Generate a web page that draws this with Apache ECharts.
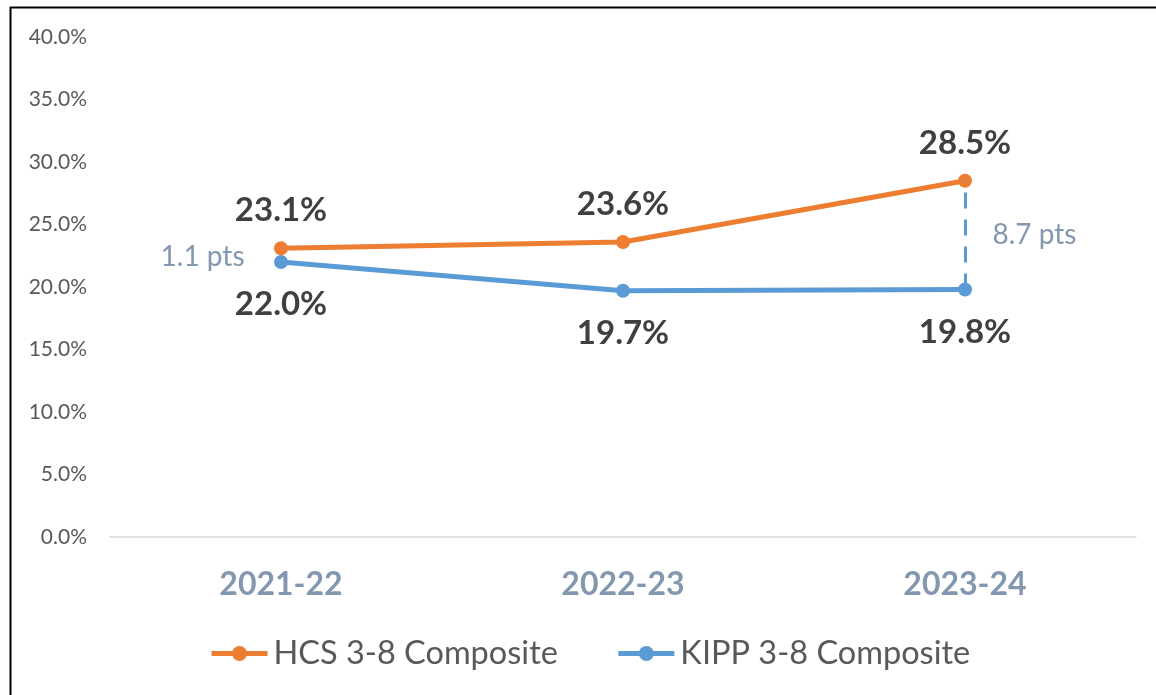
<!DOCTYPE html>
<html>
<head>
<meta charset="utf-8">
<script src="https://cdn.jsdelivr.net/npm/echarts@6/dist/echarts.min.js"></script>
<style>
html,body{margin:0;padding:0;background:#fff;}
#chart{width:1156px;height:695px;}
</style>
</head>
<body>
<div id="chart"></div>
<script>
const categories = ['2021-22', '2022-23', '2023-24'];
const hcsValues = [23.1, 23.6, 28.5];
const kippValues = [22.0, 19.7, 19.8];
const seriesNames = ['HCS 3-8 Composite', 'KIPP 3-8 Composite'];
const yTicks = [0, 5, 10, 15, 20, 25, 30, 35, 40];
const gapIndices = [0, 2];

const FONT = 'Lato, "Open Sans", sans-serif';
const ORANGE = '#ED7D31';
const BLUE = '#5B9BD5';
const ANNOT = '#8497B0';

const chart = echarts.init(document.getElementById('chart'));

const gapFirst = gapIndices[0];
const gapLast = gapIndices[1];
const gap = (i) => (hcsValues[i] - kippValues[i]).toFixed(1) + ' pts';
const mid = (i) => (hcsValues[i] + kippValues[i]) / 2;

const option = {
  backgroundColor: '#fff',
  animation: false,
  textStyle: { fontFamily: FONT },
  grid: { left: 110, right: 20, top: 37, bottom: 158, containLabel: false },
  legend: {
    bottom: 20,
    left: 204,
    itemWidth: 56,
    itemHeight: 19,
    itemGap: 58,
    lineStyle: { width: 5 },
    textStyle: { fontFamily: FONT, fontSize: 32.5, color: '#595959', padding: [0, 0, 0, 1] },
    data: seriesNames
  },
  xAxis: {
    type: 'category',
    data: categories,
    boundaryGap: true,
    axisLine: { show: true, lineStyle: { color: '#D9D9D9', width: 1.5 } },
    axisTick: { show: false },
    axisLabel: { fontFamily: FONT, fontSize: 32, fontWeight: 'bold', color: ANNOT, margin: 32 }
  },
  yAxis: {
    type: 'value',
    min: yTicks[0],
    max: yTicks[yTicks.length - 1],
    interval: yTicks[1] - yTicks[0],
    axisLine: { show: false },
    axisTick: { show: false },
    splitLine: { show: false },
    axisLabel: {
      fontFamily: FONT, fontSize: 21, color: '#595959', margin: 23,
      formatter: (v) => v.toFixed(1) + '%'
    }
  },
  series: [
    {
      name: seriesNames[0],
      type: 'line',
      data: hcsValues,
      color: ORANGE,
      lineStyle: { width: 5, color: ORANGE },
      symbol: 'circle',
      symbolSize: 14,
      itemStyle: { color: ORANGE },
      label: {
        show: true, position: 'top', distance: 14,
        fontFamily: FONT, fontSize: 33, fontWeight: 'bold', color: '#404040',
        formatter: (p) => p.value.toFixed(1) + '%'
      },
      z: 3
    },
    {
      name: seriesNames[1],
      type: 'line',
      data: kippValues,
      color: BLUE,
      lineStyle: { width: 5, color: BLUE },
      symbol: 'circle',
      symbolSize: 14,
      itemStyle: { color: BLUE },
      label: {
        show: true, position: 'bottom', distance: 19,
        fontFamily: FONT, fontSize: 33, fontWeight: 'bold', color: '#404040',
        formatter: (p) => p.value.toFixed(1) + '%'
      },
      markLine: {
        silent: true,
        symbol: ['none', 'none'],
        lineStyle: { type: [16, 11], color: BLUE, width: 3 },
        label: { show: false },
        data: [[
          { coord: [gapLast, kippValues[gapLast]] },
          { coord: [gapLast, hcsValues[gapLast]] }
        ]]
      },
      markPoint: {
        silent: true,
        symbol: 'circle',
        symbolSize: 1,
        itemStyle: { color: 'rgba(0,0,0,0)' },
        label: {
          show: true,
          fontFamily: FONT, fontSize: 28, color: ANNOT
        },
        data: [
          { coord: [gapFirst, mid(gapFirst)], label: { position: 'left', distance: 36, formatter: gap(gapFirst), offset: [0, 2] } },
          { coord: [gapLast, mid(gapLast)], label: { position: 'right', distance: 27, formatter: gap(gapLast) } }
        ]
      },
      z: 2
    }
  ],
  graphic: [
    { type: 'line', shape: { x1: 10, y1: 7.5, x2: 1156, y2: 7.5 }, style: { stroke: '#000', lineWidth: 2 }, silent: true },
    { type: 'line', shape: { x1: 10.5, y1: 7, x2: 10.5, y2: 695 }, style: { stroke: '#000', lineWidth: 2 }, silent: true }
  ]
};

chart.setOption(option);
</script>
</body>
</html>
